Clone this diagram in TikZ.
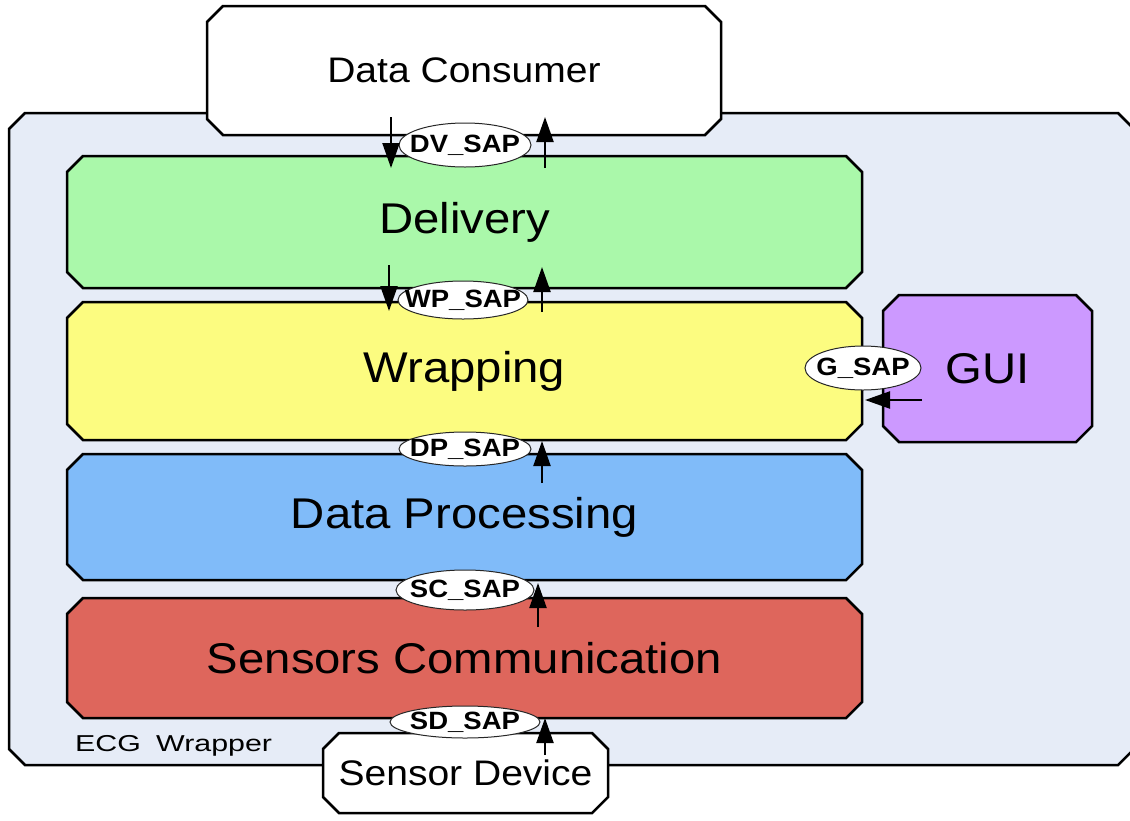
\documentclass[tikz,border=0pt]{standalone}
\usepackage{fontspec}
\setmainfont{Liberation Sans}
\usetikzlibrary{shapes.geometric,arrows.meta}

\definecolor{wrapbg}{RGB}{230,236,247}
\definecolor{delivfill}{RGB}{170,248,170}
\definecolor{wrapfill}{RGB}{252,252,128}
\definecolor{procfill}{RGB}{128,187,249}
\definecolor{sensfill}{RGB}{222,102,92}
\definecolor{guifill}{RGB}{204,153,255}

% widened sans label: size, text
\newcommand{\lbl}[2]{\scalebox{1.1}[1]{\fontsize{#1}{#1}\selectfont #2}}
% service access point label
\newcommand{\saptext}[1]{\lbl{25}{\bfseries #1}}

\def\cham{16}
% chamfered box: name, x1, y1, x2, y2, fill, text
\newcommand{\chambox}[7]{%
  \draw[boxline, fill=#6]
    (#2+\cham,#3) -- (#4-\cham,#3) -- (#4,#3+\cham) -- (#4,#5-\cham)
    -- (#4-\cham,#5) -- (#2+\cham,#5) -- (#2,#5-\cham) -- (#2,#3+\cham) -- cycle;
  \node[inner sep=0pt, minimum width={#4-#2}, minimum height={#5-#3}]
    (#1) at ({(#2+#4)/2},{(#3+#5)/2}) {#7};
}

\tikzset{
  boxline/.style={draw=black, line width=2.5pt, line join=miter},
  sap/.style={ellipse, draw=black!85, line width=1pt, fill=white, inner sep=0pt,
              label={[inner sep=0pt]center:\saptext{#1}}},
  flow/.style={line width=2.2pt, -{Triangle[length=25pt,width=17pt]}},
}

\begin{document}
\begin{tikzpicture}[x=1pt,y=-1pt]
\useasboundingbox (0,0) rectangle (1130,820);
\clip (0,0) rectangle (1130,820);
\fill[white] (0,0) rectangle (1130,820);

% outer wrapper
\chambox{wrapper}{9}{113}{1134}{765}{wrapbg}{}
\node[anchor=west, inner sep=0pt] (ecg) at (75,746) {\scalebox{1.32}[1]{\fontsize{23}{23}\selectfont ECG\enspace Wrapper}};

% external entities and layers
\chambox{consumer}{207}{6}{721}{135}{white}{\lbl{35.5}{Data Consumer}}
\chambox{delivery}{67}{156}{862}{288}{delivfill}{\lbl{43}{Delivery}}
\chambox{wrapping}{67}{302}{862}{440}{wrapfill}{\lbl{43}{Wrapping}}
\chambox{processing}{67}{454}{862}{580}{procfill}{\lbl{43}{Data Processing}}
\chambox{sensors}{67}{598}{862}{718}{sensfill}{\lbl{43}{Sensors Communication}}
\chambox{gui}{883}{295}{1092}{442}{guifill}{\lbl{43}{GUI}}
\chambox{device}{323}{733}{608}{813}{white}{\lbl{35.5}{Sensor Device}}

% service access points
\node[sap=DV\_SAP, minimum width=132, minimum height=44] (dv) at (465,145) {};
\node[sap=WP\_SAP, minimum width=130, minimum height=38] (wp) at (463,300) {};
\node[sap=DP\_SAP, minimum width=132, minimum height=34] (dp) at (465,449) {};
\node[sap=SC\_SAP, minimum width=138, minimum height=40] (sc) at (465,590) {};
\node[sap=SD\_SAP, minimum width=150, minimum height=32] (sd) at (465,722) {};
\node[sap=G\_SAP, minimum width=116, minimum height=44] (gs) at (863,368) {};

% flow endpoints
\coordinate (dvDownA) at (391,117); \coordinate (dvDownB) at (391,168);
\coordinate (dvUpA) at (545,168);   \coordinate (dvUpB) at (545,117);
\coordinate (wpDownA) at (389,265); \coordinate (wpDownB) at (389,311);
\coordinate (wpUpA) at (542,312);   \coordinate (wpUpB) at (542,267);
\coordinate (dpUpA) at (542,483);   \coordinate (dpUpB) at (542,441);
\coordinate (scUpA) at (538,627);   \coordinate (scUpB) at (538,583);
\coordinate (sdUpA) at (545,755);   \coordinate (sdUpB) at (545,718);
\coordinate (gA) at (922,400);      \coordinate (gB) at (865,400);

\draw[flow] (dvDownA) -- (dvDownB);
\draw[flow] (dvUpA) -- (dvUpB);
\draw[flow] (wpDownA) -- (wpDownB);
\draw[flow] (wpUpA) -- (wpUpB);
\draw[flow] (dpUpA) -- (dpUpB);
\draw[flow] (scUpA) -- (scUpB);
\draw[flow] (sdUpA) -- (sdUpB);
\draw[flow] (gA) -- (gB);
\end{tikzpicture}
\end{document}
